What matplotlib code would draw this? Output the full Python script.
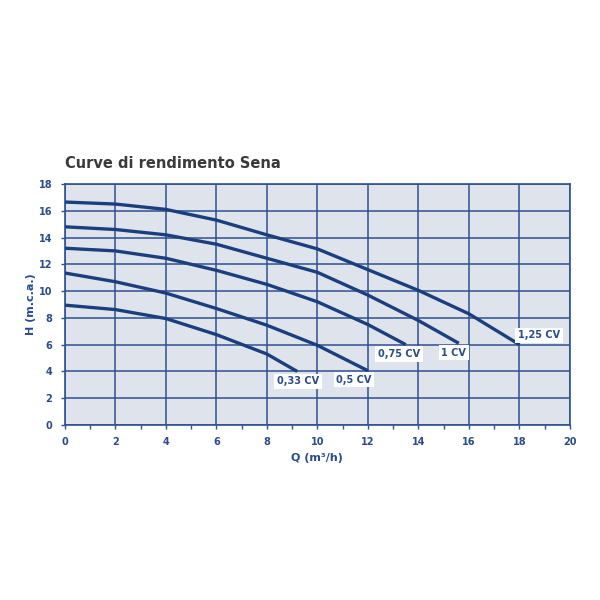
import matplotlib.pyplot as plt

# pump curves, Q (m3/h) vs H (m.c.a.)
q_125 = [0, 2, 4, 6, 8, 10, 12, 14, 16, 18]
h_125 = [16.65, 16.5, 16.1, 15.3, 14.2, 13.15, 11.6, 10.05, 8.3, 6.0]
q_100 = [0, 2, 4, 6, 8, 10, 12, 14, 15.6]
h_100 = [14.8, 14.6, 14.2, 13.5, 12.45, 11.4, 9.7, 7.8, 6.1]
q_075 = [0, 2, 4, 6, 8, 10, 12, 13.5]
h_075 = [13.2, 13.0, 12.45, 11.55, 10.5, 9.2, 7.5, 6.0]
q_050 = [0, 2, 4, 6, 8, 10, 12]
h_050 = [11.35, 10.7, 9.85, 8.7, 7.45, 5.95, 4.05]
q_033 = [0, 2, 4, 6, 8, 9.2]
h_033 = [8.95, 8.62, 7.95, 6.75, 5.3, 4.0]

labels = ['1,25 CV', '1 CV', '0,75 CV', '0,5 CV', '0,33 CV']
label_pos = [(18.77, 6.7), (15.4, 5.4), (13.23, 5.3), (11.44, 3.38), (9.23, 3.28)]

curve_col = '#1b3f7e'
grid_col = '#2e5190'
text_col = '#2a4c8c'
font = ['Liberation Sans Narrow', 'DejaVu Sans']

fig = plt.figure(figsize=(6, 6), dpi=100)
ax = fig.add_axes([0.108, 0.2917, 0.842, 0.4017])
ax.set_facecolor('#dfe4ec')

curves = [(q_125, h_125), (q_100, h_100), (q_075, h_075), (q_050, h_050), (q_033, h_033)]
for (q, h), lab, (lx, ly) in zip(curves, labels, label_pos):
    ax.plot(q, h, color=curve_col, lw=2.4, solid_capstyle='butt', solid_joinstyle='round', zorder=3)
    ax.text(lx, ly, lab, color=text_col, fontsize=7, fontweight='bold', family=font,
            ha='center', va='center', zorder=4,
            bbox=dict(facecolor='white', edgecolor='none', pad=1.8))

ax.set_xlim(0, 20)
ax.set_ylim(0, 18)
ax.set_xticks(range(0, 21, 2))
ax.set_xticks(range(1, 20, 2), minor=True)
ax.set_yticks(range(0, 19, 2))
ax.grid(True, color=grid_col, lw=1.1, zorder=1)
ax.set_axisbelow(True)
for s in ax.spines.values():
    s.set_color(grid_col)
    s.set_linewidth(1.2)
ax.tick_params(which='both', direction='out', color=grid_col, length=3, width=1, pad=6)
for t in ax.get_xticklabels() + ax.get_yticklabels():
    t.set_color(text_col)
    t.set_fontsize(7)
    t.set_fontweight('bold')
    t.set_family(font)

ax.set_xlabel('Q (m³/h)', color=text_col, fontsize=8, fontweight='bold', family=font, labelpad=4)
ax.set_ylabel('H (m.c.a.)', color=text_col, fontsize=8, fontweight='bold', family=font, labelpad=2)
fig.text(0.108, 0.728, 'Curve di rendimento Sena', color='#3a3a3a', fontsize=10.5,
         fontweight='bold', family=font, ha='left', va='center')

fig.savefig('out.png', dpi=100, facecolor='white')
